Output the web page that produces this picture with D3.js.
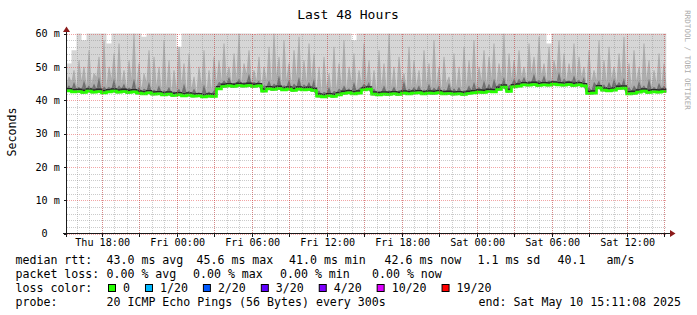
<!DOCTYPE html>
<html><head><meta charset="utf-8">
<script src="https://cdn.jsdelivr.net/npm/d3@7"></script>
<style>html,body{margin:0;padding:0;background:#fff}svg text{font-family:"DejaVu Sans Mono",monospace;white-space:pre}</style>
</head><body><svg id="c" width="697" height="315"></svg>
<script>
// ---- data ----
const startTime = Date.UTC(2025,4,8,15,11,8);
const endTime = Date.UTC(2025,4,10,15,11,8);
const medianRtt = [42.8,42.5,42.6,42.3,42.7,42.4,42.6,42.2,42.5,42.7,
42.4,42.6,42.3,42.5,42.1,41.9,42.2,41.8,41.9,41.6,
41.8,41.4,41.6,41.3,41.5,41.2,41.3,41.0,41.2,41.1,
43.4,44.1,44.3,44.1,44.4,44.2,44.4,44.1,44.3,42.7,
43.4,43.2,43.5,43.1,43.3,42.9,43.3,43.1,43.2,42.9,
41.2,41.0,41.3,41.1,41.6,42.0,42.2,41.9,42.1,43.1,
43.3,41.8,41.6,41.8,41.7,41.9,41.7,42.1,41.9,42.1,
42.2,41.9,42.1,42.0,42.2,41.9,42.0,41.8,41.9,41.7,
42.0,42.2,42.4,42.3,42.6,42.5,43.2,43.9,42.6,44.0,
44.2,44.6,44.5,44.7,44.4,44.6,44.5,44.8,44.6,44.5,
44.7,44.4,44.6,44.3,42.0,42.1,43.7,43.0,42.8,43.0,
43.5,43.6,41.9,42.0,42.4,42.7,42.3,42.5,42.4,42.6];
const smokeDark = [44.5,45.5,44,46,44.5,45,47,44.2,44,46.5,
44.5,45,43.8,46.5,44,43.5,45.5,43.2,44.5,43,
44,42.6,43.5,45,42.8,43.5,42.4,44.8,42.6,43,
45.5,46,47,45.2,46.5,45.4,48,45.5,46,44.5,
46,45,47.5,44.5,46.2,45,47,44.8,45.5,46.5,
43,42.5,44,42.8,43.5,44.5,43.6,45.5,43.5,45,
45.5,43.5,42.8,44.5,43,44.2,43,45.8,43.5,44,
44.5,43.2,45,43.8,44.5,43.3,45.2,43.6,44,43,
44.5,45.5,44,46,45,46.5,45,47,44.5,46.5,
46.5,47,45.8,48,46.2,47.5,46,45.9,48.5,46.5,
46,47.5,46.2,47,44,45.5,46,44.8,45.5,46.5,
45.5,46.8,44,44.5,45.8,44.5,46.5,44,45.2,44.4];
const smokeMid = [47,49,52,50,55,48,53,58,50,54,
57,49,52,60,51,48,55,53,50,58,
52,49,56,51,54,47,50,55,49,53,
52,57,50,54,60,51,55,49,53,50,
56,60,53,58,51,55,59,52,57,54,
50,53,48,56,51,58,50,54,49,57,
52,49,55,51,60,50,53,48,56,52,
49,55,51,58,50,53,47,54,50,56,
52,58,50,55,53,57,51,60,54,52,
55,50,57,53,59,51,56,52,58,54,
51,57,53,50,55,49,58,52,56,50,
54,59,51,55,50,57,52,49,54,51];
const smokeTop = [51,55,62,58,62,62,62,62,57,62,
62,62,62,62,62,59,62,62,62,62,
62,62,56,62,62,62,62,62,62,62,
62,62,62,62,62,62,62,60,62,62,
62,62,62,62,62,62,62,62,62,62,
62,62,62,62,62,62,62,58,62,62,
62,62,62,62,62,62,62,62,62,62,
62,62,62,62,62,62,62,62,62,62,
62,62,62,62,62,62,62,62,62,62,
62,62,62,62,62,62,57,62,62,62,
62,62,62,62,62,62,62,62,62,62,
62,62,62,62,62,62,62,62,62,62];
const yTicks = [0,10,20,30,40,50,60];
const yTickLabels = [" 0  ","10 m","20 m","30 m","40 m","50 m","60 m"];
const title = "Last 48 Hours";
const yTitle = "Seconds";
const watermark = "RRDTOOL / TOBI OETIKER";
const legendLine1 = ["median rtt:","43.0 ms avg","45.6 ms max","41.0 ms min","42.6 ms now","1.1 ms sd","40.1","am/s"];
const legendLine2 = ["packet loss:","0.00 % avg","0.00 % max","0.00 % min","0.00 % now"];
const legendLine3 = "loss color:";
const legendLine4 = ["probe:","20 ICMP Echo Pings (56 Bytes) every 300s"];
const legendEnd = "end: Sat May 10 15:11:08 2025";
const lossLabels = ["0","1/20","2/20","3/20","4/20","10/20","19/20"];
const lossColors = ["#26ff00","#00b8ff","#0059ff","#5e00ff","#7e00ff","#dd00ff","#ff0000"];

// ---- layout ----
const svg = d3.select("#c");
const L=66.5, R=666.5, T=33.5, B=233.5;
const x = d3.scaleUtc().domain([new Date(startTime), new Date(endTime)]).range([L, R]);
const y = d3.scaleLinear().domain([0,60]).range([B, T]);
const n = medianRtt.length;
const stepMs = (endTime-startTime)/n;
const tAt = f => new Date(startTime + f*stepMs);
const rows = d3.range(n+1).map(i=>{const k=Math.min(i,n-1);return {t:tAt(i),med:medianRtt[k],top:smokeTop[k]};});

svg.append("rect").attr("width",697).attr("height",315).attr("fill","#fff");
svg.append("clipPath").attr("id","pc").append("rect").attr("x",L).attr("y",T).attr("width",R-L).attr("height",B-T);
const g = svg.append("g").attr("clip-path","url(#pc)");
// light smoke
g.append("path").datum(rows)
  .attr("d",d3.area().curve(d3.curveStepAfter).x(d=>x(d.t)).y0(d=>y(d.med)+1).y1(d=>y(d.top)))
  .attr("fill","#d6d6d6");
// spiky mid smoke: each sample is a narrow spike rising from the dark level
const midPts = [];
d3.range(n).forEach(i=>{
  midPts.push({t:tAt(i),med:medianRtt[i],v:smokeDark[i]});
  midPts.push({t:tAt(i+0.4),med:medianRtt[i],v:smokeMid[i]});
  midPts.push({t:tAt(i+0.6),med:medianRtt[i],v:smokeMid[i]});
});
midPts.push({t:tAt(n),med:medianRtt[n-1],v:smokeDark[n-1]});
g.append("path").datum(midPts)
  .attr("d",d3.area().x(d=>x(d.t)).y0(d=>y(d.med)+1).y1(d=>y(d.v)))
  .attr("fill","#adadad");
// darker smoke near the median
const darkPts = [];
d3.range(n).forEach(i=>{
  darkPts.push({t:tAt(i),med:medianRtt[i],v:medianRtt[i]+0.8});
  darkPts.push({t:tAt(i+0.5),med:medianRtt[i],v:smokeDark[i]});
});
darkPts.push({t:tAt(n),med:medianRtt[n-1],v:medianRtt[n-1]+0.8});
g.append("path").datum(darkPts)
  .attr("d",d3.area().x(d=>x(d.t)).y0(d=>y(d.med)+1).y1(d=>y(d.v)))
  .attr("fill","#707070");
g.append("path").datum(rows)
  .attr("d",d3.line().curve(d3.curveStepAfter).x(d=>x(d.t)).y(d=>y(d.med)-2.2))
  .attr("fill","none").attr("stroke","#2a2a2a").attr("stroke-width",1.4);
g.append("path").datum(rows)
  .attr("d",d3.line().curve(d3.curveStepAfter).x(d=>x(d.t)).y(d=>y(d.med)))
  .attr("fill","none").attr("stroke","#26ff00").attr("stroke-width",2.6);

// grid
const grid = svg.append("g").attr("shape-rendering","crispEdges");
const minorX = d3.utcHour.every(1).range(new Date(startTime), new Date(endTime));
const majorX = d3.utcHour.every(3).range(new Date(startTime), new Date(endTime));
const minorC = "rgba(140,140,140,0.45)", majorC = "rgba(225,40,40,0.42)";
minorX.forEach(t=>{const xx=Math.round(x(t))+0.5;grid.append("line").attr("x1",xx).attr("x2",xx).attr("y1",T).attr("y2",B)
  .attr("stroke",minorC).attr("stroke-dasharray","1,1");});
d3.range(2,60,2).filter(v=>v%10!==0).forEach(v=>{const yy=Math.round(y(v))+0.5;grid.append("line").attr("x1",L).attr("x2",R).attr("y1",yy).attr("y2",yy)
  .attr("stroke",minorC).attr("stroke-dasharray","1,1");});
majorX.forEach(t=>{const xx=Math.round(x(t))+0.5;grid.append("line").attr("x1",xx).attr("x2",xx).attr("y1",T).attr("y2",B)
  .attr("stroke",majorC).attr("stroke-dasharray","1,1");});
yTicks.forEach(v=>{const yy=Math.round(y(v))+0.5;grid.append("line").attr("x1",L).attr("x2",R).attr("y1",yy).attr("y2",yy)
  .attr("stroke",majorC).attr("stroke-dasharray","1,1");});

// axes
const ax = svg.append("g").attr("shape-rendering","crispEdges");
ax.append("line").attr("x1",63).attr("x2",670).attr("y1",B).attr("y2",B).attr("stroke","#1a1a1a");
ax.append("line").attr("x1",L).attr("x2",L).attr("y1",B+3).attr("y2",30).attr("stroke","#1a1a1a");
yTicks.forEach(v=>{const yy=Math.round(y(v))+0.5;ax.append("line").attr("x1",L-3).attr("x2",L).attr("y1",yy).attr("y2",yy).attr("stroke","#1a1a1a");});
majorX.forEach(t=>{const xx=Math.round(x(t))+0.5;ax.append("line").attr("x1",xx).attr("x2",xx).attr("y1",B).attr("y2",B+3).attr("stroke","#1a1a1a");});
svg.append("path").attr("d",`M670,${B-3.5}L675.5,${B}L670,${B+3.5}Z`).attr("fill","#8b1a1a");
svg.append("path").attr("d",`M${L-3.5},32L${L},26.5L${L+3.5},32Z`).attr("fill","#8b1a1a");

// axis labels
const labelsX = d3.utcHour.every(6).range(new Date(startTime), new Date(endTime));
const fmt = d3.utcFormat("%a %H:%M");
labelsX.forEach(t=>svg.append("text").attr("x",x(t)+1).attr("y",246).attr("text-anchor","middle").attr("font-size","10.15px").attr("fill","#000").text(fmt(t)));
yTicks.forEach((v,i)=>svg.append("text").attr("x",35.5).attr("y",y(v)+3.7).attr("font-size","10.15px").attr("fill","#000").text(yTickLabels[i]));

svg.append("text").attr("x",348).attr("y",18.5).attr("text-anchor","middle").attr("font-size","13px").attr("fill","#000").text(title);
svg.append("text").attr("transform","translate(15.5,132) rotate(-90)").attr("text-anchor","middle").attr("font-size","11.6px").attr("fill","#000").text(yTitle);
svg.append("text").attr("transform","translate(685,60) rotate(90)").attr("text-anchor","middle").attr("font-size","7.5px").attr("fill","#aaa").text(watermark);

// legend
const lf = "11.6px";
const line1X = [15.5,106.5,196.5,289,384.5,477.5,557.5,606.5];
const line2X = [15.5,106.5,193,280,372];
const line4X = [15.5,106.5];
legendLine1.forEach((s,i)=>svg.append("text").attr("x",line1X[i]).attr("y",263.5).attr("font-size",lf).text(s));
legendLine2.forEach((s,i)=>svg.append("text").attr("x",line2X[i]).attr("y",277.5).attr("font-size",lf).text(s));
svg.append("text").attr("x",15.5).attr("y",291.5).attr("font-size",lf).text(legendLine3);
legendLine4.forEach((s,i)=>svg.append("text").attr("x",line4X[i]).attr("y",305.5).attr("font-size",lf).text(s));
svg.append("text").attr("x",681).attr("y",305.5).attr("text-anchor","end").attr("font-size",lf).text(legendEnd);
let bx = 108;
lossLabels.forEach((lab,i)=>{
  svg.append("rect").attr("x",bx+0.5).attr("y",284.5).attr("width",7).attr("height",7).attr("fill",lossColors[i]).attr("stroke","#000");
  svg.append("text").attr("x",bx+15).attr("y",291.5).attr("font-size",lf).text(lab);
  bx = bx + 15 + lab.length*6.98 + 15;
});
</script></body></html>
